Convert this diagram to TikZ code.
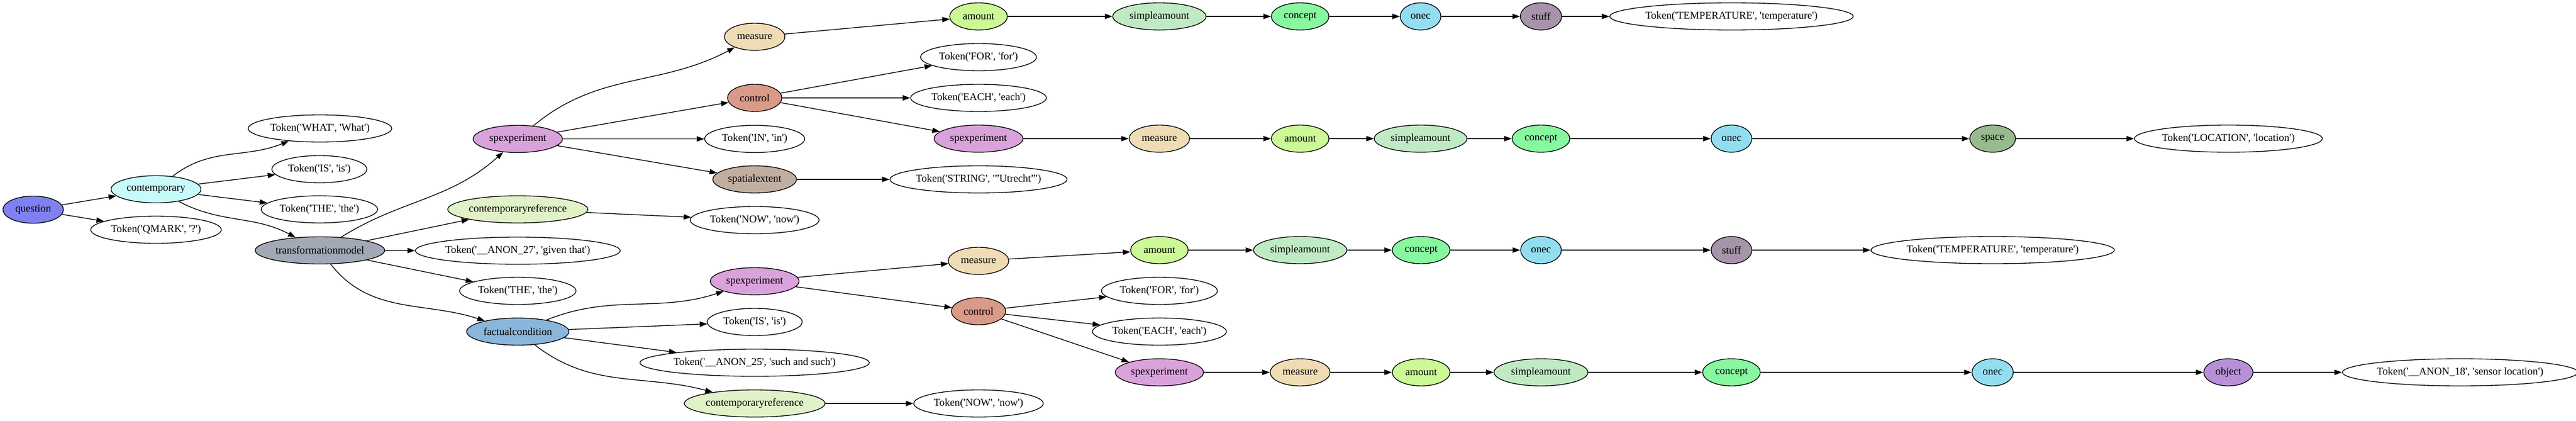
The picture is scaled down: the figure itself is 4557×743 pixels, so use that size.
\documentclass[tikz,border=0pt]{standalone}
\usepackage{fontspec}
\setmainfont{Liberation Serif}
\usetikzlibrary{shapes.geometric,arrows.meta}
\newcommand{\apos}{\textquotesingle}
\newcommand{\tokn}[2]{Token(\apos#1\apos, \apos#2\apos)}
\definecolor{cQuestion}{RGB}{128,128,240}
\definecolor{cContemp}{RGB}{200,250,250}
\definecolor{cTM}{RGB}{162,168,182}
\definecolor{cSpexp}{RGB}{218,162,218}
\definecolor{cCref}{RGB}{226,242,200}
\definecolor{cMeasure}{RGB}{240,220,180}
\definecolor{cControl}{RGB}{218,154,136}
\definecolor{cSpatial}{RGB}{192,174,160}
\definecolor{cFact}{RGB}{138,182,220}
\definecolor{cAmount}{RGB}{204,248,150}
\definecolor{cSimple}{RGB}{192,234,196}
\definecolor{cConcept}{RGB}{136,248,160}
\definecolor{cOnec}{RGB}{146,222,240}
\definecolor{cStuff}{RGB}{168,148,170}
\definecolor{cSpace}{RGB}{152,186,142}
\definecolor{cObject}{RGB}{184,144,216}
\tikzset{
  gv/.style={ellipse, draw=black, line width=1pt, inner sep=0pt,
    minimum height=36pt, font=\fontsize{14pt}{16pt}\selectfont},
  wd/.style={minimum width=#1*0.75pt},
  tokb/.style={gv, fill=white},
  edg/.style={-{Triangle[length=10pt,width=7pt]}, line width=1pt},
}
\begin{document}
\begin{tikzpicture}[x=0.75pt,y=-0.75pt]
\fill[white] (0,0) rectangle (4557,743);
\useasboundingbox (0,0) rectangle (4557,743);
% column 0-2
\node[gv, fill=cQuestion, wd=107] (question) at (58.7,370.5) {question};
\node[gv, fill=cContemp, wd=159] (contemporary) at (276,334.5) {contemporary};
\node[tokb, wd=231] (qmark) at (276,406) {\tokn{QMARK}{?}};
\node[tokb, wd=254] (what) at (566,227) {\tokn{WHAT}{What}};
\node[tokb, wd=168] (isa) at (565,299) {\tokn{IS}{is}};
\node[tokb, wd=206] (thea) at (565,370) {\tokn{THE}{the}};
\node[gv, fill=cTM, wd=229] (tm) at (566,442.5) {transformationmodel};
% column 3
\node[gv, fill=cSpexp, wd=158] (spa) at (916,245.5) {spexperiment};
\node[gv, fill=cCref, wd=248] (cra) at (916,370) {contemporaryreference};
\node[tokb, wd=354] (anonb) at (916,443) {\tokn{\_\_ANON\_27}{given that}};
\node[tokb, wd=206] (theb) at (916,514) {\tokn{THE}{the}};
\node[gv, fill=cFact, wd=181] (fc) at (916,586) {factualcondition};
% column 4
\node[gv, fill=cMeasure, wd=107] (mea) at (1335,65) {measure};
\node[gv, fill=cControl, wd=96] (ctla) at (1335,173) {control};
\node[tokb, wd=177] (ina) at (1335,245.5) {\tokn{IN}{in}};
\node[gv, fill=cSpatial, wd=148] (sea) at (1335,317) {spatialextent};
\node[tokb, wd=228] (nowa) at (1335,389) {\tokn{NOW}{now}};
\node[gv, fill=cSpexp, wd=157] (spc) at (1335,497) {spexperiment};
\node[tokb, wd=168] (isb) at (1335,569) {\tokn{IS}{is}};
\node[tokb, wd=392] (anona) at (1335,641) {\tokn{\_\_ANON\_25}{such and such}};
\node[gv, fill=cCref, wd=249] (crb) at (1335,713) {contemporaryreference};
% column 5
\node[gv, fill=cAmount, wd=102] (ama) at (1731,29) {amount};
\node[tokb, wd=205] (fora) at (1731,101) {\tokn{FOR}{for}};
\node[tokb, wd=240] (eacha) at (1731,173) {\tokn{EACH}{each}};
\node[gv, fill=cSpexp, wd=157] (spb) at (1731,245) {spexperiment};
\node[tokb, wd=308] (str) at (1731,317) {Token(\apos STRING\apos, \apos"Utrecht"\apos)};
\node[gv, fill=cMeasure, wd=107] (mec) at (1731,461) {measure};
\node[gv, fill=cControl, wd=96] (ctlb) at (1731,550) {control};
\node[tokb, wd=229] (nowb) at (1731,713) {\tokn{NOW}{now}};
% column 6
\node[gv, fill=cSimple, wd=165] (saa) at (2051,29) {simpleamount};
\node[gv, fill=cMeasure, wd=107] (meb) at (2051,245) {measure};
\node[gv, fill=cAmount, wd=102] (amc) at (2051,442) {amount};
\node[tokb, wd=205] (forb) at (2051,514) {\tokn{FOR}{for}};
\node[tokb, wd=237] (eachb) at (2051,586) {\tokn{EACH}{each}};
\node[gv, fill=cSpexp, wd=156] (spd) at (2051,658) {spexperiment};
% column 7
\node[gv, fill=cConcept, wd=102] (coa) at (2300,29) {concept};
\node[gv, fill=cAmount, wd=102] (amb) at (2300,245) {amount};
\node[gv, fill=cSimple, wd=165] (sac) at (2300,442) {simpleamount};
\node[gv, fill=cMeasure, wd=106] (med) at (2300,658) {measure};
% column 8
\node[gv, fill=cOnec, wd=72] (ona) at (2513,29) {onec};
\node[gv, fill=cSimple, wd=164] (sab) at (2513,245) {simpleamount};
\node[gv, fill=cConcept, wd=102] (coc) at (2514,442) {concept};
\node[gv, fill=cAmount, wd=102] (amd) at (2514,658) {amount};
% column 9
\node[gv, fill=cStuff, wd=73] (sta) at (2726,29) {stuff};
\node[gv, fill=cConcept, wd=102] (cob) at (2726,245) {concept};
\node[gv, fill=cOnec, wd=72] (onc) at (2726,442) {onec};
\node[gv, fill=cSimple, wd=166] (sad) at (2726,658) {simpleamount};
% column 10
\node[tokb, wd=413] (tta) at (3063,29) {\tokn{TEMPERATURE}{temperature}};
\node[gv, fill=cOnec, wd=72] (onb) at (3063,245) {onec};
\node[gv, fill=cStuff, wd=72] (stc) at (3063,442) {stuff};
\node[gv, fill=cConcept, wd=102] (cod) at (3063,658) {concept};
% column 11
\node[gv, fill=cSpace, wd=81] (spc1) at (3525,245) {space};
\node[tokb, wd=413] (ttb) at (3525,442) {\tokn{TEMPERATURE}{temperature}};
\node[gv, fill=cOnec, wd=73] (ond) at (3525,658) {onec};
% column 12-13
\node[tokb, wd=325] (loc) at (3942,245) {\tokn{LOCATION}{location}};
\node[gv, fill=cObject, wd=87] (obj) at (3942,658) {object};
\node[tokb, wd=398] (anonc) at (4352,658) {\tokn{\_\_ANON\_18}{sensor location}};
% edges
\draw[edg] (question) -- (contemporary);
\draw[edg] (question) -- (qmark);
\draw[edg] (contemporary) to[out=38,in=202] (what);
\draw[edg] (contemporary) -- (isa);
\draw[edg] (contemporary) -- (thea);
\draw[edg] (contemporary) to[out=-28,in=152] (tm);
\draw[edg] (tm) to[out=32,in=222] (spa);
\draw[edg] (tm) -- (cra);
\draw[edg] (tm) -- (anonb);
\draw[edg] (tm) -- (theb);
\draw[edg] (tm) to[out=-52,in=162] (fc);
\draw[edg] (spa) to[out=40,in=208] (mea);
\draw[edg] (spa) -- (ctla);
\draw[edg] (spa) -- (ina);
\draw[edg] (spa) -- (sea);
\draw[edg] (cra) -- (nowa);
\draw[edg] (fc) to[out=22,in=198] (spc);
\draw[edg] (fc) -- (isb);
\draw[edg] (fc) -- (anona);
\draw[edg] (fc) to[out=-38,in=165] (crb);
\draw[edg] (mea) -- (ama);
\draw[edg] (ctla) -- (fora);
\draw[edg] (ctla) -- (eacha);
\draw[edg] (ctla) -- (spb);
\draw[edg] (sea) -- (str);
\draw[edg] (spc) -- (mec);
\draw[edg] (spc) -- (ctlb);
\draw[edg] (crb) -- (nowb);
\draw[edg] (mec) -- (amc);
\draw[edg] (ctlb) -- (forb);
\draw[edg] (ctlb) -- (eachb);
\draw[edg] (ctlb) -- (spd);
\draw[edg] (ama) -- (saa);
\draw[edg] (saa) -- (coa);
\draw[edg] (coa) -- (ona);
\draw[edg] (ona) -- (sta);
\draw[edg] (sta) -- (tta);
\draw[edg] (spb) -- (meb);
\draw[edg] (meb) -- (amb);
\draw[edg] (amb) -- (sab);
\draw[edg] (sab) -- (cob);
\draw[edg] (cob) -- (onb);
\draw[edg] (onb) -- (spc1);
\draw[edg] (spc1) -- (loc);
\draw[edg] (amc) -- (sac);
\draw[edg] (sac) -- (coc);
\draw[edg] (coc) -- (onc);
\draw[edg] (onc) -- (stc);
\draw[edg] (stc) -- (ttb);
\draw[edg] (spd) -- (med);
\draw[edg] (med) -- (amd);
\draw[edg] (amd) -- (sad);
\draw[edg] (sad) -- (cod);
\draw[edg] (cod) -- (ond);
\draw[edg] (ond) -- (obj);
\draw[edg] (obj) -- (anonc);
\end{tikzpicture}
\end{document}
